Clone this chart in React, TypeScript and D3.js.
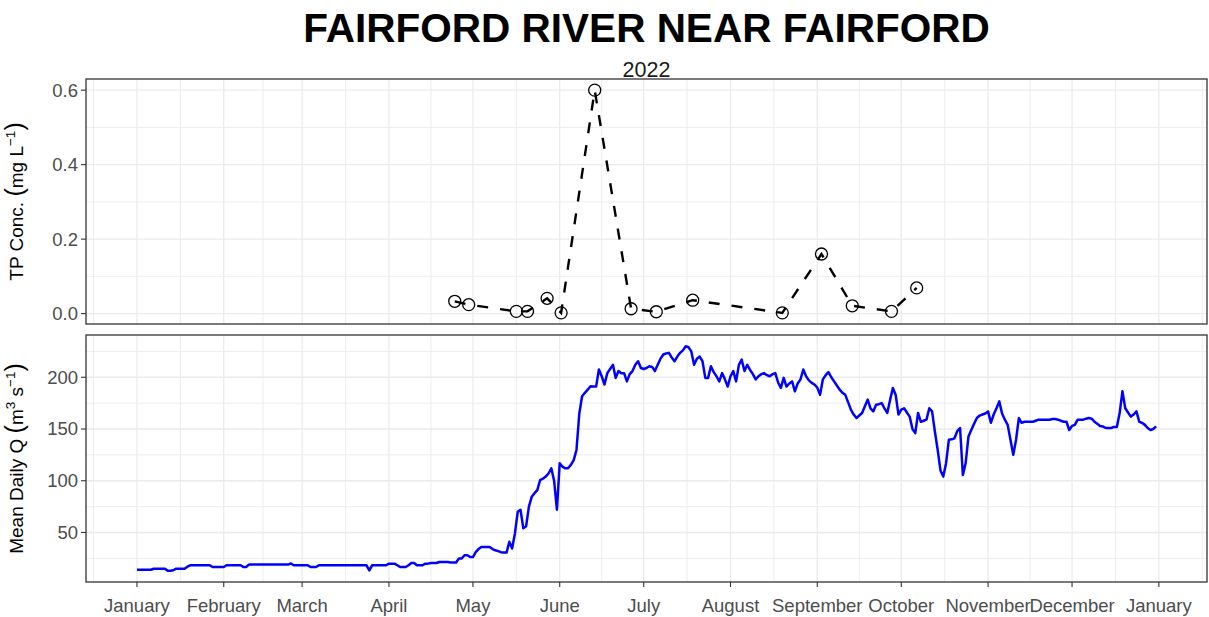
import React from 'react';
import * as d3 from 'd3';

// ---- Data ----
const tpDates = [
  '2022-04-24 12:00', '2022-04-29 12:00', '2022-05-16 12:00', '2022-05-20 12:00', '2022-05-27 12:00',
  '2022-06-01 12:00', '2022-06-13 12:00', '2022-06-26 12:00', '2022-07-05 12:00', '2022-07-18 12:00',
  '2022-08-19 12:00', '2022-09-02 12:00', '2022-09-13 12:00', '2022-09-27 12:00', '2022-10-06 12:00',
];
const tpValues = [
  0.033, 0.024, 0.006, 0.006, 0.041,
  0.002, 0.6, 0.013, 0.005, 0.036,
  0.002, 0.16, 0.021, 0.006, 0.069,
];

const flowStart = '2022-01-01 00:00';
// Mean daily discharge (m3/s), one value per day from Jan 1 to Dec 31 2022
const flowValues = [
  14, 14, 14, 14, 14, 14, 15, 15, 15, 15,
  15, 13, 13, 13.5, 15, 15, 15, 15, 17, 18.3,
  18.3, 18.3, 18.3, 18.3, 18.3, 18.3, 18.3, 16.6, 16.6, 16.6,
  16.6, 16.6, 18.3, 18.3, 18.3, 18.3, 18.3, 18.3, 16.6, 16.6,
  19, 19, 19, 19, 19, 19, 19, 19, 19, 19,
  19, 19, 19, 19, 19, 20, 18.3, 18.3, 18.3, 18.3,
  18.3, 18.3, 16.6, 16.6, 16.6, 18.3, 18.3, 18.3, 18.3, 18.3,
  18.3, 18.3, 18.3, 18.3, 18.3, 18.3, 18.3, 18.3, 18.3, 18.3,
  18.3, 18.3, 18.3, 13.4, 18.3, 18.3, 18.3, 18.3, 18.3, 18.3,
  19.9, 19.9, 19.9, 18.3, 16.6, 16.6, 16.6, 18.3, 20.5, 20.5,
  18.3, 18.3, 18.3, 19.9, 19.9, 20.5, 20.5, 20.5, 21.5, 21.5,
  21.5, 21.5, 21, 21, 21, 24.8, 24.8, 28, 28, 26.3,
  26.3, 31, 34, 36, 36, 36, 36, 34, 32.8, 32,
  31, 30.6, 30.6, 41, 34.5, 49, 70, 72, 54, 56,
  75, 84.5, 88, 91, 100.7, 102, 104, 107, 112, 100,
  72, 117, 113.6, 112, 112, 115.3, 120, 130, 165, 181.6,
  185, 188, 191.3, 191, 191, 207.5, 201, 193, 204, 208,
  212, 199.4, 206, 204, 204, 196, 203, 206, 212, 215.5,
  209, 208, 209, 210.7, 210, 206, 212, 218, 222, 223,
  223.6, 219, 215.5, 220, 223.6, 226, 230, 229, 225, 212,
  218, 220, 215.5, 199.4, 199.4, 210.7, 205, 201, 196, 204,
  198, 191, 201, 206, 196, 212, 217, 206, 212, 207,
  203, 198, 201, 203, 204, 202, 201, 203, 204, 195,
  189.7, 199.4, 191, 194, 196, 186.4, 194, 198, 207.5, 201,
  197, 194.6, 193, 190, 183, 198, 202, 205, 200, 196,
  192, 188, 185, 183, 176, 168.7, 164, 160.6, 163, 165.5,
  172, 178.4, 170, 167, 173.5, 174, 175, 170, 165.5, 178,
  189.7, 183, 164, 168.7, 170, 166, 162, 150, 146, 165.5,
  157, 158, 159, 170, 167, 147.6, 130, 110, 104, 117,
  139.6, 140, 141, 148, 151, 105.6, 117, 142.8, 149, 155,
  160.6, 163, 164, 165, 167, 156, 164, 170, 176.7, 165,
  159, 154, 139.6, 125, 139.6, 160.6, 156, 157, 157, 157,
  157, 158, 159, 159, 159, 159, 159, 159.6, 159.6, 159,
  158, 157, 157, 149, 153, 154, 159, 159, 159, 160,
  160.6, 160, 157, 155, 153, 152.5, 151, 151, 151, 152,
  152, 165.5, 186.4, 170, 166, 162, 164, 167, 157, 156,
  154, 151, 149, 150, 152.5,
];

const tpTicks = [0, 0.2, 0.4, 0.6];
const tpMinor = [0.1, 0.3, 0.5];
const qTicks = [50, 100, 150, 200];
const qMinor = [25, 75, 125, 175, 225];

const titleText = 'FAIRFORD RIVER NEAR FAIRFORD';
const subtitleText = '2022';

// ---- Layout ----
const W = 1209;
const H = 617;
const L = 86;
const R = 1207;
const P1 = { top: 79, bottom: 324 };
const P2 = { top: 335, bottom: 582 };

const FONT = 'Liberation Sans, Arial, Helvetica, sans-serif';

function expand(ext: [number, number], f = 0.05): [number, number] {
  const d = ext[1] - ext[0];
  return [ext[0] - d * f, ext[1] + d * f];
}

export default function App() {
  const parse = d3.timeParse('%Y-%m-%d %H:%M');
  const start = parse(flowStart) as Date;
  const flow = flowValues.map((v, i) => ({ date: d3.timeDay.offset(start, i), v }));
  const tp = tpDates.map((d, i) => ({ date: parse(d) as Date, v: tpValues[i] }));

  const t0 = +flow[0].date;
  const t1 = +flow[flow.length - 1].date;
  const [xa, xb] = expand([t0, t1]);
  const x = d3.scaleTime().domain([new Date(xa), new Date(xb)]).range([L, R]);

  const yTP = d3
    .scaleLinear()
    .domain(expand(d3.extent(tpValues) as [number, number]))
    .range([P1.bottom, P1.top]);
  const yQ = d3
    .scaleLinear()
    .domain(expand(d3.extent(flowValues) as [number, number]))
    .range([P2.bottom, P2.top]);

  const allMonths = d3.timeMonth.range(new Date(2021, 10, 1), new Date(2023, 2, 1));
  const majorX = allMonths.filter((d) => +d >= xa && +d <= xb);
  const minorX: Date[] = [];
  for (let i = 0; i < allMonths.length - 1; i++) {
    const m = new Date((+allMonths[i] + +allMonths[i + 1]) / 2);
    if (+m >= xa && +m <= xb) minorX.push(m);
  }
  const fmt = d3.timeFormat('%B');

  const tpLine = d3
    .line<{ date: Date; v: number }>()
    .x((d) => x(d.date))
    .y((d) => yTP(d.v));
  const qLine = d3
    .line<{ date: Date; v: number }>()
    .x((d) => x(d.date))
    .y((d) => yQ(d.v));

  const grid = '#EBEBEB';
  const axisCol = '#333333';
  const tickText = '#4D4D4D';

  const inY = (s: d3.ScaleLinear<number, number>, v: number) => {
    const [a, b] = s.domain();
    return v >= a && v <= b;
  };

  const panelGrid = (
    p: { top: number; bottom: number },
    ys: d3.ScaleLinear<number, number>,
    major: number[],
    minor: number[],
    key: string
  ) => (
    <g key={key}>
      {minorX.map((d, i) => (
        <line key={'mx' + i} x1={x(d)} x2={x(d)} y1={p.top} y2={p.bottom} stroke={grid} strokeWidth={0.9} />
      ))}
      {minor.filter((v) => inY(ys, v)).map((v, i) => (
        <line key={'my' + i} x1={L} x2={R} y1={ys(v)} y2={ys(v)} stroke={grid} strokeWidth={0.9} />
      ))}
      {majorX.map((d, i) => (
        <line key={'Mx' + i} x1={x(d)} x2={x(d)} y1={p.top} y2={p.bottom} stroke={grid} strokeWidth={1.3} />
      ))}
      {major.filter((v) => inY(ys, v)).map((v, i) => (
        <line key={'My' + i} x1={L} x2={R} y1={ys(v)} y2={ys(v)} stroke={grid} strokeWidth={1.3} />
      ))}
    </g>
  );

  const yAxis = (ys: d3.ScaleLinear<number, number>, ticks: number[], f: (v: number) => string, key: string) => (
    <g key={key}>
      {ticks.map((v, i) => (
        <g key={i}>
          <line x1={L - 5} x2={L} y1={ys(v)} y2={ys(v)} stroke={axisCol} strokeWidth={1.1} />
          <text x={L - 8} y={ys(v)} dy="0.35em" textAnchor="end" fontSize={18.5} fill={tickText} fontFamily={FONT}>
            {f(v)}
          </text>
        </g>
      ))}
    </g>
  );

  const mid1 = (P1.top + P1.bottom) / 2;
  const mid2 = (P2.top + P2.bottom) / 2;

  return (
    <svg
      width={W}
      height={H}
      style={{ position: 'absolute', left: 0, top: 0, display: 'block', background: '#fff' }}
      fontFamily={FONT}
    >
      <rect x={0} y={0} width={W} height={H} fill="#fff" />
      <text x={(L + R) / 2} y={42} textAnchor="middle" fontSize={40.5} fontWeight="bold" fill="#000">
        {titleText}
      </text>
      <text x={(L + R) / 2} y={77} textAnchor="middle" fontSize={21.5} fill="#1a1a1a">
        {subtitleText}
      </text>

      {/* Panel 1: TP concentration */}
      {panelGrid(P1, yTP, tpTicks, tpMinor, 'g1')}
      <path
        d={tpLine(tp) || ''}
        fill="none"
        stroke="#000"
        strokeWidth={2.4}
        strokeDasharray="11,12"
      />
      {tp.map((d, i) => (
        <circle key={i} cx={x(d.date)} cy={yTP(d.v)} r={6} fill="none" stroke="#000" strokeWidth={1.3} />
      ))}
      <rect x={L} y={P1.top} width={R - L} height={P1.bottom - P1.top} fill="none" stroke={axisCol} strokeWidth={1.3} />
      {yAxis(yTP, tpTicks, d3.format('.1f'), 'a1')}

      {/* Panel 2: discharge */}
      {panelGrid(P2, yQ, qTicks, qMinor, 'g2')}
      <path d={qLine(flow) || ''} fill="none" stroke="#0000FF" strokeWidth={2.5} strokeLinejoin="round" />
      <rect x={L} y={P2.top} width={R - L} height={P2.bottom - P2.top} fill="none" stroke={axisCol} strokeWidth={1.3} />
      {yAxis(yQ, qTicks, d3.format('d'), 'a2')}

      {/* X axis */}
      {majorX.map((d, i) => (
        <g key={i}>
          <line x1={x(d)} x2={x(d)} y1={P2.bottom} y2={P2.bottom + 5} stroke={axisCol} strokeWidth={1.1} />
          <text x={x(d)} y={P2.bottom + 30} textAnchor="middle" fontSize={18.5} fill={tickText}>
            {fmt(d)}
          </text>
        </g>
      ))}

      {/* Y axis titles */}
      <text transform={`translate(23,${mid1}) rotate(-90)`} textAnchor="middle" fontSize={19} fill="#000">
        <tspan>TP Conc. </tspan>
        <tspan fontSize={25}>(</tspan>
        <tspan>mg L</tspan>
        <tspan fontSize={13.5} dy={-8}>−1</tspan>
        <tspan fontSize={25} dy={8}>)</tspan>
      </text>
      <text transform={`translate(23,${mid2}) rotate(-90)`} textAnchor="middle" fontSize={19} fill="#000">
        <tspan>Mean Daily Q </tspan>
        <tspan fontSize={25}>(</tspan>
        <tspan>m</tspan>
        <tspan fontSize={13.5} dy={-8}>3</tspan>
        <tspan dy={8}> s</tspan>
        <tspan fontSize={13.5} dy={-8}>−1</tspan>
        <tspan fontSize={25} dy={8}>)</tspan>
      </text>
    </svg>
  );
}
